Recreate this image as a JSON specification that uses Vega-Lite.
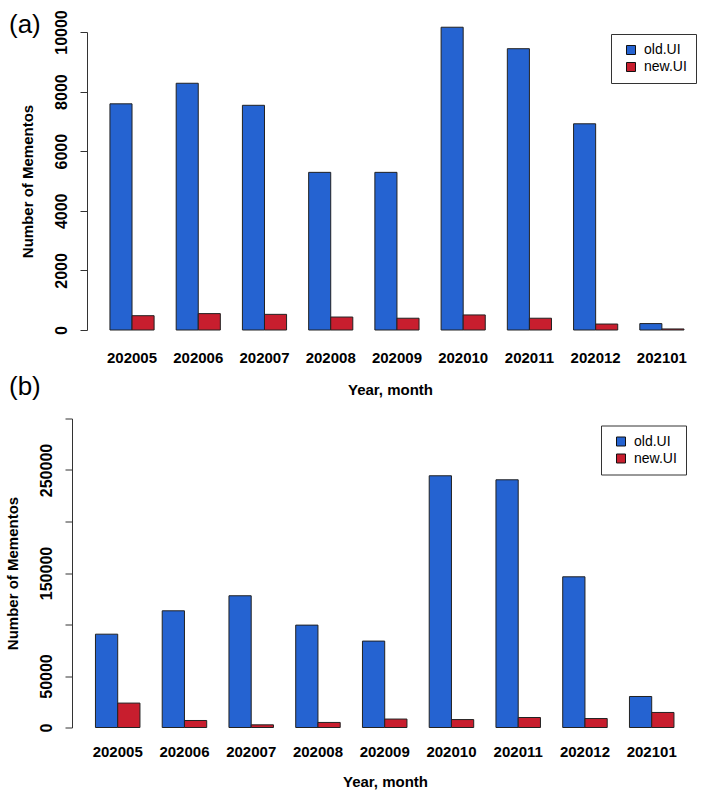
{
  "$schema": "https://vega.github.io/schema/vega-lite/v6.json",
  "padding": {"left": 5, "top": 9, "right": 0, "bottom": 0},
  "background": "white",
  "spacing": -23.5,
  "datasets": {
    "a": [
      {"month": "202005", "ui": "old.UI", "count": 7590},
      {"month": "202005", "ui": "new.UI", "count": 480},
      {"month": "202006", "ui": "old.UI", "count": 8280},
      {"month": "202006", "ui": "new.UI", "count": 550},
      {"month": "202007", "ui": "old.UI", "count": 7540},
      {"month": "202007", "ui": "new.UI", "count": 525},
      {"month": "202008", "ui": "old.UI", "count": 5290},
      {"month": "202008", "ui": "new.UI", "count": 435},
      {"month": "202009", "ui": "old.UI", "count": 5290},
      {"month": "202009", "ui": "new.UI", "count": 395},
      {"month": "202010", "ui": "old.UI", "count": 10160},
      {"month": "202010", "ui": "new.UI", "count": 505},
      {"month": "202011", "ui": "old.UI", "count": 9440},
      {"month": "202011", "ui": "new.UI", "count": 395},
      {"month": "202012", "ui": "old.UI", "count": 6920},
      {"month": "202012", "ui": "new.UI", "count": 200},
      {"month": "202101", "ui": "old.UI", "count": 215},
      {"month": "202101", "ui": "new.UI", "count": 35}
    ],
    "b": [
      {"month": "202005", "ui": "old.UI", "count": 90600},
      {"month": "202005", "ui": "new.UI", "count": 23700},
      {"month": "202006", "ui": "old.UI", "count": 113300},
      {"month": "202006", "ui": "new.UI", "count": 6800},
      {"month": "202007", "ui": "old.UI", "count": 127900},
      {"month": "202007", "ui": "new.UI", "count": 2600},
      {"month": "202008", "ui": "old.UI", "count": 99400},
      {"month": "202008", "ui": "new.UI", "count": 4900},
      {"month": "202009", "ui": "old.UI", "count": 83900},
      {"month": "202009", "ui": "new.UI", "count": 8200},
      {"month": "202010", "ui": "old.UI", "count": 244400},
      {"month": "202010", "ui": "new.UI", "count": 7700},
      {"month": "202011", "ui": "old.UI", "count": 240500},
      {"month": "202011", "ui": "new.UI", "count": 9700},
      {"month": "202012", "ui": "old.UI", "count": 146300},
      {"month": "202012", "ui": "new.UI", "count": 8700},
      {"month": "202101", "ui": "old.UI", "count": 30100},
      {"month": "202101", "ui": "new.UI", "count": 14600}
    ]
  },
  "vconcat": [
    {
      "data": {"name": "a"},
      "width": 598,
      "height": 298,
      "title": {"text": "(a)", "anchor": "start", "frame": "group", "dx": -82, "offset": -49, "baseline": "alphabetic", "fontSize": 26, "fontWeight": "normal", "font": "Liberation Sans", "color": "black"},
      "mark": {"type": "bar", "stroke": "#222", "strokeWidth": 1, "clip": false},
      "encoding": {
        "x": {"field": "month", "type": "nominal", "sort": null,
          "scale": {"paddingInner": 0.3333, "paddingOuter": 0.181, "align": 0.79},
          "axis": {"title": "Year, month", "labelAngle": 0, "ticks": false, "domain": false, "labelPadding": 20, "titlePadding": 17}},
        "xOffset": {"field": "ui", "type": "nominal", "scale": {"domain": ["old.UI", "new.UI"], "paddingInner": 0, "paddingOuter": 0}},
        "y": {"field": "count", "type": "quantitative",
          "scale": {"domain": [0, 10000], "nice": false, "zero": true},
          "axis": {"title": "Number of Mementos", "values": [0, 2000, 4000, 6000, 8000, 10000], "format": "d", "labelAngle": -90, "labelAlign": "center", "labelBaseline": "bottom", "labelFontSize": 16, "labelPadding": 11, "titlePadding": 18, "offset": 4, "grid": false}},
        "color": {"field": "ui", "type": "nominal",
          "scale": {"domain": ["old.UI", "new.UI"], "range": ["#2563d1", "#c81e2e"]},
          "legend": {"orient": "none", "legendX": 520, "legendY": 2, "title": null, "strokeColor": "#333", "fillColor": "white", "padding": 9, "symbolType": "square", "symbolSize": 81, "symbolStrokeColor": "#111", "symbolStrokeWidth": 1, "labelFontSize": 14, "labelFont": "Liberation Sans", "labelColor": "black", "symbolOffset": 4, "labelOffset": 6, "rowPadding": 3}}
      }
    },
    {
      "data": {"name": "b"},
      "width": 588,
      "height": 309,
      "title": {"text": "(b)", "anchor": "start", "frame": "group", "dx": -82, "offset": -3, "baseline": "alphabetic", "fontSize": 26, "fontWeight": "normal", "font": "Liberation Sans", "color": "black"},
      "mark": {"type": "bar", "stroke": "#222", "strokeWidth": 1, "clip": false},
      "encoding": {
        "x": {"field": "month", "type": "nominal", "sort": null,
          "scale": {"paddingInner": 0.3333, "paddingOuter": 0.0711, "align": 0.47},
          "axis": {"title": "Year, month", "labelAngle": 0, "ticks": false, "domain": false, "labelPadding": 17, "titlePadding": 15}},
        "xOffset": {"field": "ui", "type": "nominal", "scale": {"domain": ["old.UI", "new.UI"], "paddingInner": 0, "paddingOuter": 0}},
        "y": {"field": "count", "type": "quantitative",
          "scale": {"domain": [0, 300000], "nice": false, "zero": true},
          "axis": {"title": "Number of Mementos", "values": [0, 50000, 100000, 150000, 200000, 250000, 300000], "labelExpr": "datum.value == 0 || datum.value == 50000 || datum.value == 150000 || datum.value == 250000 ? format(datum.value, 'd') : ''", "labelAngle": -90, "labelAlign": "center", "labelBaseline": "bottom", "labelFontSize": 16, "labelPadding": 11, "titlePadding": 18, "offset": 19, "grid": false}},
        "color": {"field": "ui", "type": "nominal",
          "scale": {"domain": ["old.UI", "new.UI"], "range": ["#2563d1", "#c81e2e"]},
          "legend": {"orient": "none", "legendX": 510, "legendY": 7, "title": null, "strokeColor": "#333", "fillColor": "white", "padding": 9, "symbolType": "square", "symbolSize": 81, "symbolStrokeColor": "#111", "symbolStrokeWidth": 1, "labelFontSize": 14, "labelFont": "Liberation Sans", "labelColor": "black", "symbolOffset": 4, "labelOffset": 6, "rowPadding": 3}}
      }
    }
  ],
  "resolve": {"scale": {"color": "independent", "x": "independent", "y": "independent", "xOffset": "independent"}, "legend": {"color": "independent"}},
  "config": {
    "view": {"stroke": null},
    "font": "Liberation Sans",
    "axis": {
      "labelFont": "Liberation Sans", "labelFontSize": 15, "labelFontWeight": "bold", "labelColor": "black",
      "titleFont": "Liberation Sans", "titleFontSize": 15, "titleFontWeight": "bold", "titleColor": "black",
      "domainColor": "#333", "tickColor": "#333", "tickSize": 7, "tickWidth": 1, "domainWidth": 1, "labelOverlap": false
    }
  }
}
